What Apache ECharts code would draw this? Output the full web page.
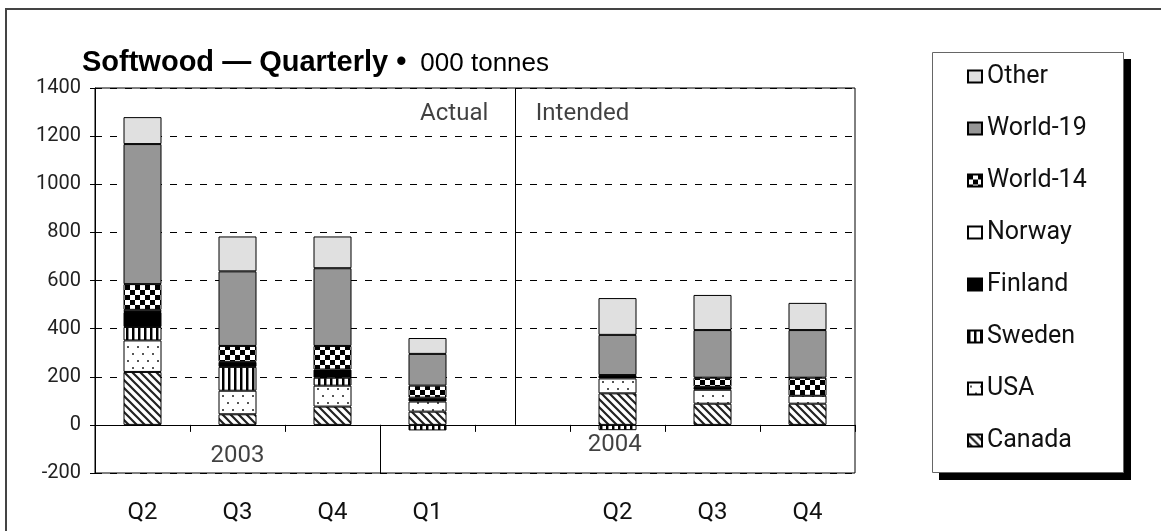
<!DOCTYPE html>
<html>
<head>
<meta charset="utf-8">
<title>Softwood — Quarterly</title>
<script src="https://cdn.jsdelivr.net/npm/echarts@6/dist/echarts.min.js"></script>
<style>
  html, body { margin: 0; padding: 0; background: #fff; }
  #chart { width: 1161px; height: 531px; }
</style>
</head>
<body>
<div id="chart"></div>
<script>
// x axis: one slot per quarter, slot 4 is the gap between actual and intended
var quarters = ['Q2', 'Q3', 'Q4', 'Q1', '', 'Q2', 'Q3', 'Q4'];
var years = ['2003', '2004'];

// 000 tonnes, stacked bottom -> top
var canada  = [220, 44, 76, 55, null, 131, 88, 88];
var usa     = [131, 98, 87, 42, null, 62, 58, 33];
var sweden  = [56, 99, 33, -23, null, -22, null, null];
var finland = [62, 21, 34, 16, null, 14, 12, null];
var norway  = [9, null, null, null, null, null, null, null];
var world14 = [107, 66, 98, 50, null, null, 38, 75];
var world19 = [582, 310, 323, 132, null, 167, 198, 198];
var other   = [112, 145, 132, 66, null, 153, 146, 113];

// hatch fills drawn on small canvases
function pattern(kind) {
  var c = document.createElement('canvas');
  var g;
  if (kind == 'diag') {
    c.width = 8; c.height = 8;
    g = c.getContext('2d');
    g.fillStyle = '#fff'; g.fillRect(0, 0, 8, 8);
    g.strokeStyle = '#222'; g.lineWidth = 2.2;
    g.beginPath();
    g.moveTo(-2, -2); g.lineTo(10, 10);
    g.moveTo(-2, 6); g.lineTo(2, 10);
    g.moveTo(6, -2); g.lineTo(10, 2);
    g.stroke();
  } else if (kind == 'dots') {
    c.width = 10; c.height = 14;
    g = c.getContext('2d');
    g.fillStyle = '#fff'; g.fillRect(0, 0, 10, 14);
    g.fillStyle = '#555';
    g.fillRect(2, 3, 2, 2);
    g.fillRect(7, 10, 2, 2);
  } else if (kind == 'vstripe') {
    c.width = 6; c.height = 6;
    g = c.getContext('2d');
    g.fillStyle = '#fff'; g.fillRect(0, 0, 6, 6);
    g.fillStyle = '#000'; g.fillRect(0, 0, 2, 6);
    g.fillStyle = '#888'; g.fillRect(2, 0, 1, 6);
  } else if (kind == 'checker') {
    c.width = 10; c.height = 10;
    g = c.getContext('2d');
    g.fillStyle = '#fff'; g.fillRect(0, 0, 10, 10);
    g.fillStyle = '#000';
    g.fillRect(0, 0, 5, 5);
    g.fillRect(5, 5, 5, 5);
  }
  return { image: c, repeat: 'repeat' };
}

var myChart = echarts.init(document.getElementById('chart'));

var font = 'Roboto';

function barSeries(name, data, color) {
  return {
    name: name,
    type: 'bar',
    stack: 'total',
    barWidth: 38,
    data: data,
    itemStyle: { color: color, borderColor: '#000', borderWidth: 1 },
    emphasis: { disabled: true }
  };
}

var option = {
  animation: false,
  backgroundColor: '#fff',
  graphic: [
    // outer frame
    {
      type: 'rect',
      silent: true,
      z: -10,
      shape: { x: 6, y: 9, width: 1200, height: 600 },
      style: { fill: 'none', stroke: '#444', lineWidth: 2 }
    },
    // legend box with its drop shadow
    {
      type: 'rect',
      silent: true,
      z: -5,
      shape: { x: 939, y: 59, width: 192, height: 421 },
      style: { fill: '#000' }
    },
    {
      type: 'rect',
      silent: true,
      z: -4,
      shape: { x: 932.5, y: 52.5, width: 191, height: 420 },
      style: { fill: '#fff', stroke: '#666', lineWidth: 1 }
    }
  ],
  title: {
    left: 82,
    top: 48,
    padding: 0,
    text: '{a|Softwood — Quarterly •}{b|000 tonnes}',
    textStyle: {
      rich: {
        a: { fontFamily: 'Liberation Sans', fontWeight: 'bold', fontSize: 29, color: '#000', verticalAlign: 'bottom' },
        b: { fontFamily: 'Liberation Sans', fontWeight: 'normal', fontSize: 26, color: '#000', verticalAlign: 'bottom', padding: [0, 0, 0, 14] }
      }
    }
  },
  legend: {
    orient: 'vertical',
    left: 932,
    top: 52,
    data: ['Other', 'World-19', 'World-14', 'Norway', 'Finland', 'Sweden', 'USA', 'Canada'],
    icon: 'rect',
    itemWidth: 14,
    itemHeight: 12,
    itemGap: 27,
    padding: [12, 30, 20, 35],
    selectedMode: false,
    textStyle: { fontFamily: font, fontSize: 25, lineHeight: 25, color: '#111' }
  },
  grid: {
    left: 95, right: 306, top: 88, bottom: 58,
    outerBoundsMode: 'none',
    show: true, borderColor: '#000', borderWidth: 1
  },
  xAxis: [
    {
      type: 'category',
      data: quarters,
      axisLine: { onZero: true, lineStyle: { color: '#000', width: 1 } },
      axisTick: { show: true, interval: 0, length: 7, lineStyle: { color: '#000' } },
      axisLabel: { interval: 0, margin: 28, fontFamily: font, fontSize: 24, color: '#111' },
      splitLine: { show: false }
    },
    { type: 'value', min: 0, max: 8, show: false }
  ],
  yAxis: [
    {
      type: 'value',
      min: -200,
      max: 1400,
      interval: 200,
      axisLine: { show: true, lineStyle: { color: '#000' } },
      axisTick: { show: true, length: 5, lineStyle: { color: '#000' } },
      axisLabel: { margin: 14, fontFamily: font, fontSize: 20, color: '#222', formatter: function (v) { return String(v); } },
      splitLine: { show: true, lineStyle: { color: '#000', type: [7, 8], width: 1 } }
    },
    {
      type: 'value',
      min: -200,
      max: 1400,
      interval: 200,
      position: 'left',
      axisLine: { show: false },
      axisTick: { show: true, inside: true, length: 6, lineStyle: { color: '#000' } },
      axisLabel: { show: false },
      splitLine: { show: false }
    }
  ],
  series: [
    barSeries('Canada', canada, pattern('diag')),
    barSeries('USA', usa, pattern('dots')),
    barSeries('Sweden', sweden, pattern('vstripe')),
    barSeries('Finland', finland, '#000'),
    barSeries('Norway', norway, '#fff'),
    barSeries('World-14', world14, pattern('checker')),
    barSeries('World-19', world19, '#969696'),
    barSeries('Other', other, '#e0e0e0'),
    {
      // annotations: section titles, year labels and divider lines
      type: 'scatter',
      xAxisIndex: 1,
      yAxisIndex: 0,
      symbolSize: 0,
      silent: true,
      z: 5,
      label: { show: true, position: 'inside', fontFamily: font, fontSize: 24, color: '#111' },
      data: [
        { value: [4.14, 1290], label: { formatter: 'Actual', align: 'right' } },
        { value: [4.64, 1290], label: { formatter: 'Intended', align: 'left' } },
        { value: [1.5, -130], label: { formatter: years[0] } },
        { value: [5.47, -82], label: { formatter: years[1] } }
      ],
      markLine: {
        silent: true,
        symbol: 'none',
        label: { show: false },
        lineStyle: { color: '#000', type: 'solid', width: 1 },
        data: [
          [{ coord: [3, 0] }, { coord: [3, -200] }],
          [{ coord: [4.42, 1400] }, { coord: [4.42, 0] }]
        ]
      }
    }
  ]
};

myChart.setOption(option);
</script>
</body>
</html>
